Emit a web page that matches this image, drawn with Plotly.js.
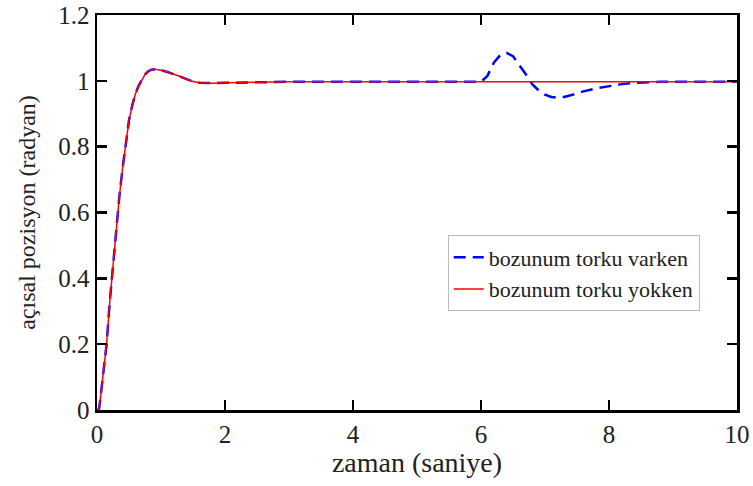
<!DOCTYPE html>
<html>
<head>
<meta charset="utf-8">
<script src="https://cdn.plot.ly/plotly-3.0.1.min.js"></script>
<style>html,body{margin:0;padding:0;background:#fff;}#chart{width:753px;height:486px;}</style>
</head>
<body>
<div id="chart"></div>
<script>
const time = [0,0.03,0.05,0.1,0.15,0.2,0.25,0.3,0.35,0.4,0.45,0.5,0.55,0.6,0.65,0.7,0.75,0.8,0.85,0.9,0.95,1.0,1.1,1.2,1.3,1.4,1.5,1.6,1.7,1.8,2,2.5,3,4,5,6,6.1,6.2,6.3,6.4,6.5,6.6,6.7,6.8,6.9,7.0,7.1,7.2,7.3,7.4,7.5,7.6,7.8,8.0,8.2,8.4,8.6,8.8,9,9.5,10];
const withoutTorque = [0,0,0.03,0.11,0.2,0.33,0.445,0.555,0.65,0.735,0.81,0.88,0.925,0.96,0.985,1.003,1.019,1.029,1.034,1.035,1.034,1.032,1.027,1.021,1.013,1.005,0.998,0.994,0.993,0.993,0.994,0.996,0.997,0.997,0.997,0.997,0.997,0.997,0.997,0.997,0.997,0.997,0.997,0.997,0.997,0.997,0.997,0.997,0.997,0.997,0.997,0.997,0.997,0.997,0.997,0.997,0.997,0.997,0.997,0.997,0.997];
const withTorque = [0,0,0.03,0.11,0.2,0.33,0.445,0.555,0.65,0.735,0.81,0.88,0.925,0.96,0.985,1.003,1.019,1.029,1.034,1.035,1.034,1.032,1.027,1.021,1.013,1.005,0.998,0.994,0.993,0.993,0.994,0.996,0.997,0.997,0.997,0.997,1.015,1.055,1.078,1.085,1.075,1.048,1.02,0.99,0.971,0.958,0.951,0.949,0.951,0.956,0.962,0.968,0.977,0.984,0.99,0.994,0.996,0.997,0.997,0.997,0.997];
const xTicks = [0,2,4,6,8,10];
const yTicks = [0,0.2,0.4,0.6,0.8,1,1.2];
const seriesNames = ['bozunum torku varken','bozunum torku yokken'];

const font = 'Liberation Serif, Times New Roman, serif';
const traces = [
  {x: time, y: withTorque, mode: 'lines', name: seriesNames[0],
   line: {color: '#0000ff', width: 2.5, dash: '12px,7px'}},
  {x: time, y: withoutTorque, mode: 'lines', name: seriesNames[1],
   line: {color: '#ff0000', width: 1.5}}
];
const axisCommon = {
  showgrid: false, zeroline: false, showline: true, linecolor: '#000', linewidth: 2.5,
  mirror: 'ticks', ticks: 'inside', ticklen: 10, tickwidth: 2.5, tickcolor: '#000',
  tickfont: {family: font, size: 25, color: '#222'}
};
const layout = {
  width: 753, height: 486,
  margin: {l: 97, r: 16, t: 15, b: 76},
  paper_bgcolor: '#fff', plot_bgcolor: '#fff',
  font: {family: font, color: '#222'},
  xaxis: Object.assign({}, axisCommon, {range: [0, 10], tickvals: xTicks,
    title: {text: 'zaman (saniye)', font: {family: font, size: 28, color: '#222'}, standoff: 4}}),
  yaxis: Object.assign({}, axisCommon, {range: [0, 1.2], tickvals: yTicks,
    title: {text: 'açısal pozisyon (radyan)', font: {family: font, size: 24, color: '#222'}, standoff: 16}}),
  legend: {x: 0.548, y: 0.3456, xanchor: 'left', yanchor: 'middle',
    bgcolor: '#fff', bordercolor: '#bbb', borderwidth: 1,
    font: {family: font, size: 22, color: '#222'}, tracegroupgap: 0},
  showlegend: true
};
Plotly.newPlot('chart', traces, layout, {displayModeBar: false, staticPlot: true});
</script>
</body>
</html>
